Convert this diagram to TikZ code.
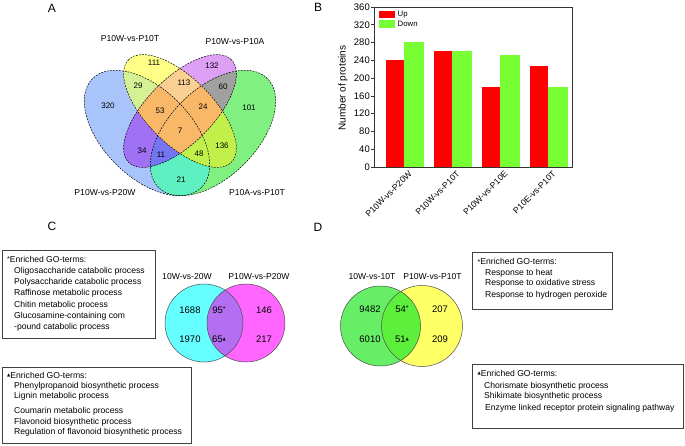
\documentclass[tikz,border=0pt]{standalone}
\usepackage{fontspec}
\setmainfont{Liberation Sans}
\newfontfamily\dejavu{DejaVu Sans}
\definecolor{cB}{HTML}{A9C4FA}
\definecolor{cY}{HTML}{FFFF88}
\definecolor{cP}{HTML}{DDA0F5}
\definecolor{cG}{HTML}{80F080}
\definecolor{cYB}{HTML}{D4F294}
\definecolor{cYP}{HTML}{FAD092}
\definecolor{cYG}{HTML}{C2F04A}
\definecolor{cPB}{HTML}{A070F5}
\definecolor{cPG}{HTML}{A0A0A0}
\definecolor{cBG}{HTML}{5EF0C0}
\definecolor{cOr}{HTML}{F8B868}
\definecolor{cPBG}{HTML}{7575F2}
\definecolor{cyanC}{HTML}{66FFFF}
\definecolor{magC}{HTML}{FF66FF}
\definecolor{ovC}{HTML}{B46EF2}
\definecolor{greenD}{HTML}{66EE66}
\definecolor{yelD}{HTML}{FFFF66}
\definecolor{ovD}{HTML}{5CF03C}
\definecolor{barR}{HTML}{FF0000}
\definecolor{barG}{HTML}{77FF33}
\begin{document}
\begin{tikzpicture}[x=1pt,y=1pt,
  rB/.style={rotate around={135:(147,-133)}},
  rY/.style={rotate around={135:(180,-111)}},
  rP/.style={rotate around={45:(180,-111)}},
  rG/.style={rotate around={45:(213,-133)}},
  vline/.style={draw=black,line width=0.5pt,dash pattern=on 1.8pt off 1.2pt},
  panel/.style={inner sep=0,font=\fontsize{12}{12}\selectfont},
  setlab/.style={inner sep=0,font=\fontsize{8.6}{10}\selectfont},
  numA/.style={inner sep=0,font=\fontsize{8}{9}\selectfont},
  numC/.style={inner sep=0,font=\fontsize{9.5}{10}\selectfont},
  item/.style={inner sep=0,anchor=base west,font=\fontsize{8.6}{10}\selectfont},
  gobox/.style={draw=black!75,line width=0.6pt,fill=none},
  tick/.style={inner sep=0,anchor=east,font=\fontsize{9.5}{10}\selectfont},
  xlab/.style={inner sep=0,anchor=north east,rotate=45,font=\fontsize{8.6}{10}\selectfont},
  circ/.style={draw=black!70,line width=0.5pt}]
\useasboundingbox (0,0) rectangle (685,-445);
\fill[white] (0,0) rectangle (685,-445);
\def\pB{(147,-133) ellipse [x radius=77,y radius=44]}
\def\pY{(180,-111) ellipse [x radius=72.6,y radius=33]}
\def\pP{(180,-111) ellipse [x radius=72.6,y radius=33]}
\def\pG{(213,-133) ellipse [x radius=77,y radius=44]}
\newcommand\stari{\raisebox{0.5pt}{\fontsize{7}{7}\selectfont *}}
\newcommand\trii{\raisebox{2.2pt}{\dejavu\fontsize{4.2}{5}\selectfont ▲}}
% ---------- Panel A ----------
\node[panel] (lA) at (52,-8) {A};
\fill[cB,rB] \pB;
\fill[cG,rG] \pG;
\fill[cY,rY] \pY;
\fill[cP,rP] \pP;
% pairs
\begin{scope}\clip[rY]\pY; \fill[cYB,rB]\pB; \end{scope}
\begin{scope}\clip[rY]\pY; \fill[cYP,rP]\pP; \end{scope}
\begin{scope}\clip[rY]\pY; \fill[cYG,rG]\pG; \end{scope}
\begin{scope}\clip[rP]\pP; \fill[cPB,rB]\pB; \end{scope}
\begin{scope}\clip[rP]\pP; \fill[cPG,rG]\pG; \end{scope}
\begin{scope}\clip[rB]\pB; \fill[cBG,rG]\pG; \end{scope}
% triples
\begin{scope}\clip[rY]\pY; \clip[rP]\pP; \fill[cOr,rB]\pB; \end{scope}
\begin{scope}\clip[rY]\pY; \clip[rP]\pP; \fill[cOr,rG]\pG; \end{scope}
\begin{scope}\clip[rY]\pY; \clip[rB]\pB; \fill[cYG,rG]\pG; \end{scope}
\begin{scope}\clip[rP]\pP; \clip[rB]\pB; \fill[cPBG,rG]\pG; \end{scope}
% quad
\begin{scope}\clip[rY]\pY; \clip[rP]\pP; \clip[rB]\pB; \fill[cOr,rG]\pG; \end{scope}
\draw[vline,rB] \pB;
\draw[vline,rG] \pG;
\draw[vline,rY] \pY;
\draw[vline,rP] \pP;
\node[setlab] (sY) at (130,-39) {P10W-vs-P10T};
\node[setlab] (sP) at (235,-42) {P10W-vs-P10A};
\node[setlab] (sB) at (105,-193) {P10W-vs-P20W};
\node[setlab] (sG) at (257,-193) {P10A-vs-P10T};
\node[numA] (n111) at (154,-63) {111};
\node[numA] (n132) at (212,-66) {132};
\node[numA] (n29) at (138,-86) {29};
\node[numA] (n113) at (184,-83) {113};
\node[numA] (n60) at (223,-87) {60};
\node[numA] (n320) at (108,-106) {320};
\node[numA] (n53) at (160,-111) {53};
\node[numA] (n24) at (203,-107) {24};
\node[numA] (n101) at (249,-108) {101};
\node[numA] (n7) at (180,-131) {7};
\node[numA] (n34) at (142,-151) {34};
\node[numA] (n11) at (161,-155) {11};
\node[numA] (n48) at (199,-154) {48};
\node[numA] (n136) at (222,-146) {136};
\node[numA] (n21) at (181,-180) {21};
% ---------- Panel B ----------
\node[panel] (lB) at (318,-7) {B};
\foreach \r/\g [count=\i from 0] in {240/282,260/260,180/253,228/181}{
  \fill[barR] (385.7+48*\i,-167) rectangle (404.3+48*\i,{-167+\r*0.444444});
  \fill[barG] (404.3+48*\i,-167) rectangle (424+48*\i,{-167+\g*0.444444});
}
\draw[line width=0.6pt,black!80] (374.3,-7) rectangle (572.3,-167);
\foreach \v in {0,40,...,360}{
  \draw[line width=0.6pt,black!80] (374.3,{-167+\v*0.444444}) -- (371.3,{-167+\v*0.444444});
  \node[tick] at (370,{-167+\v*0.444444}) {\v};
}
\node[inner sep=0,rotate=90,font=\fontsize{10}{10}\selectfont] (ylab) at (343,-88) {Number of proteins};
\fill[barR] (379.3,-11) rectangle (395,-18.3);
\fill[barG] (379.3,-20) rectangle (395,-27.5);
\node[inner sep=0,anchor=west,font=\fontsize{7.8}{8}\selectfont] (lup) at (397.5,-14.6) {Up};
\node[inner sep=0,anchor=west,font=\fontsize{7.8}{8}\selectfont] (ldown) at (397.5,-23.8) {Down};
\node[xlab] (x1) at (408,-170) {P10W-vs-P20W};
\node[xlab] (x2) at (456,-170) {P10W-vs-P10T};
\node[xlab] (x3) at (504,-170) {P10W-vs-P10E};
\node[xlab] (x4) at (552,-170) {P10E-vs-P10T};
% ---------- Panel C ----------
\node[panel] (lC) at (52,-226) {C};
\draw[gobox] (2.5,-250) rectangle (155,-338);
\node[item] (c10) at (7,-262) {\stari Enriched GO-terms:};
\node[item] (c11) at (14,-273) {Oligosaccharide catabolic process};
\node[item] (c12) at (14,-284) {Polysaccharide catabolic process};
\node[item] (c13) at (14,-295.3) {Raffinose metabolic process};
\node[item] (c14) at (14,-307) {Chitin metabolic process};
\node[item] (c15) at (14,-318) {Glucosamine-containing com};
\node[item] (c16) at (14,-329) {-pound catabolic process};
\draw[gobox] (2.5,-367) rectangle (191,-443);
\node[item] (c20) at (7,-378.7) {\trii Enriched GO-terms:};
\node[item] (c21) at (14,-388.7) {Phenylpropanoid biosynthetic process};
\node[item] (c22) at (14,-398.7) {Lignin metabolic process};
\node[item] (c23) at (14,-413) {Coumarin metabolic process};
\node[item] (c24) at (14,-424) {Flavonoid biosynthetic process};
\node[item] (c25) at (14,-434.7) {Regulation of flavonoid biosynthetic process};
\fill[cyanC] (204,-323) circle (39);
\fill[magC] (246,-323) circle (39);
\begin{scope}\clip (204,-323) circle (39); \fill[ovC] (246,-323) circle (39); \end{scope}
\draw[circ] (204,-323) circle (39);
\draw[circ] (246,-323) circle (39);
\node[setlab] (sC1) at (187,-277) {10W-vs-20W};
\node[setlab] (sC2) at (259,-277) {P10W-vs-P20W};
\node[numC] (m1688) at (190,-310) {1688};
\node[numC] (m95) at (219,-310) {95\raisebox{2pt}{\stari}};
\node[numC] (m146) at (264,-310) {146};
\node[numC] (m1970) at (190,-339) {1970};
\node[numC] (m65) at (219,-339) {65\trii};
\node[numC] (m217) at (264,-339) {217};
% ---------- Panel D ----------
\node[panel] (lD) at (318,-227) {D};
\fill[greenD] (380.5,-326) circle (40);
\fill[yelD] (422,-326) circle (40.5);
\begin{scope}\clip (380.5,-326) circle (40); \fill[ovD] (422,-326) circle (40.5); \end{scope}
\draw[circ] (380.5,-326) circle (40);
\draw[circ] (422,-326) circle (40.5);
\node[setlab] (sD1) at (372,-277) {10W-vs-10T};
\node[setlab] (sD2) at (432.5,-277) {P10W-vs-P10T};
\node[numC] (d9482) at (370,-309) {9482};
\node[numC] (d54) at (402,-309) {54\raisebox{2pt}{\stari}};
\node[numC] (d207) at (440,-309) {207};
\node[numC] (d6010) at (370,-339) {6010};
\node[numC] (d51) at (402,-339) {51\trii};
\node[numC] (d209) at (440,-339) {209};
\draw[gobox] (472,-252.7) rectangle (612,-309);
\node[item] (d10) at (477.5,-264.7) {\stari Enriched GO-terms:};
\node[item] (d11) at (485,-275.3) {Response to heat};
\node[item] (d12) at (485,-285.7) {Response to oxidative stress};
\node[item] (d13) at (485,-297) {Response to hydrogen peroxide};
\draw[gobox] (472,-364) rectangle (683.5,-428);
\node[item] (d20) at (477.5,-376.3) {\trii Enriched GO-terms:};
\node[item] (d21) at (484,-388) {Chorismate biosynthetic process};
\node[item] (d22) at (484,-398.7) {Shikimate biosynthetic process};
\node[item] (d23) at (485,-410.3) {Enzyme linked receptor protein signaling pathway};
\end{tikzpicture}
\end{document}
